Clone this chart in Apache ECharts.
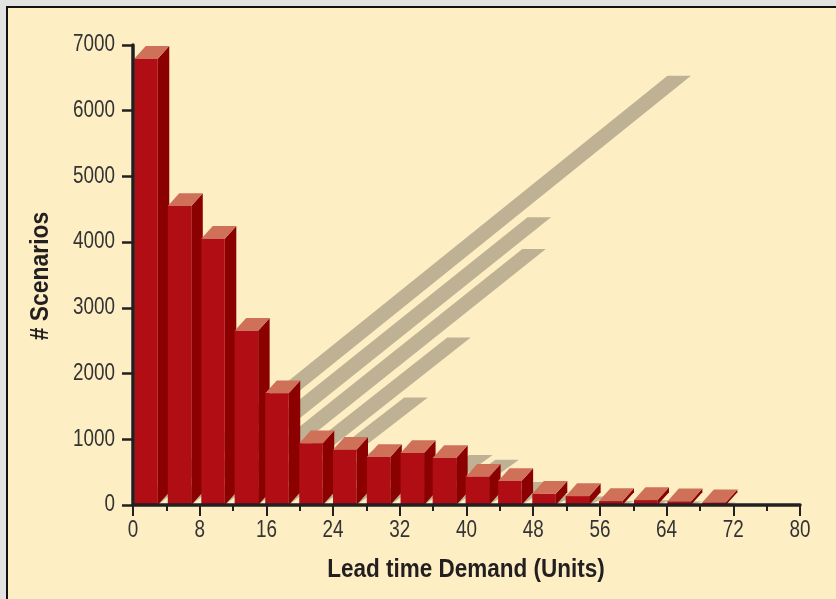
<!DOCTYPE html>
<html>
<head>
<meta charset="utf-8">
<style>
html,body{margin:0;padding:0;width:836px;height:599px;overflow:hidden;background:#e2e2e2}
#panel{position:absolute;left:6px;top:6px;right:0;bottom:0;border-left:2px solid #111;border-top:2px solid #111;background:#fdeec3}
#c{position:absolute;left:0;top:0;width:836px;height:599px}
</style>
<script src="https://cdn.jsdelivr.net/npm/echarts@6/dist/echarts.min.js"></script>
</head>
<body>
<div id="panel"></div>
<div id="c"></div>
<script>
const barCenters = [1.56,5.58,9.6,13.6,17.27,21.35,25.4,29.45,33.5,37.35,41.3,45.2,49.3,53.3,57.3,61.5,65.5,69.7];
const scenarios = [6790,4550,4050,2650,1700,940,840,730,790,715,430,365,170,135,60,75,55,40];
const xTickLabels = [0,8,16,24,32,40,48,56,64,72,80];
const yTickLabels = [0,1000,2000,3000,4000,5000,6000,7000];
const xTitle = 'Lead time Demand (Units)';
const yTitle = '# Scenarios';

const FONT = '"Liberation Sans",sans-serif';
const INK = '#231f20', LABEL = '#333';
const BAR_W = 2.82, DEPTH_X = 11.5, DEPTH_Y = 12.8;
const SHADOW_RATIO = 0.962, SHADOW_SHEAR = 1.225, SHADOW_OFFSET = 7.4;
const NARROW = 0.82;

const data = barCenters.map((c,i)=>[c,scenarios[i]]);
const poly = (points,fill)=>({type:'polygon',shape:{points},style:{fill}});
const tickText = (x,y,text,align)=>({
  type:'text',x,y,scaleX:NARROW,
  style:{text,fill:LABEL,font:'23px '+FONT,align,verticalAlign:'middle'}
});

const chart = echarts.init(document.getElementById('c'),null,{renderer:'canvas'});
chart.setOption({
  animation:false,
  backgroundColor:'transparent',
  grid:{left:133,right:36,top:45,bottom:94,containLabel:false},
  xAxis:{
    type:'value',min:0,max:80,interval:8,z:6,
    axisLine:{show:true,lineStyle:{color:INK,width:3.5}},
    axisTick:{show:true,length:11,lineStyle:{color:INK,width:2}},
    minorTick:{show:true,splitNumber:2,length:6,lineStyle:{color:INK,width:2}},
    axisLabel:{show:false},
    splitLine:{show:false},minorSplitLine:{show:false}
  },
  yAxis:{
    type:'value',min:0,max:7000,interval:1000,z:6,
    axisLine:{show:true,lineStyle:{color:INK,width:3.5}},
    axisTick:{show:true,length:11,lineStyle:{color:INK,width:2.5}},
    axisLabel:{show:false},
    splitLine:{show:false}
  },
  graphic:[
    {type:'text',x:466,y:570,scaleX:0.9,silent:true,
     style:{text:xTitle,fill:INK,font:'bold 25px '+FONT,align:'center',verticalAlign:'middle'}},
    {type:'text',x:41,y:276,rotation:Math.PI/2,scaleX:0.915,silent:true,
     style:{text:yTitle,fill:INK,font:'bold 25px '+FONT,align:'center',verticalAlign:'middle'}}
  ],
  series:[
    {
      type:'custom',coordinateSystem:'cartesian2d',z:2,data,silent:true,clip:false,
      encode:{x:0,y:1},
      renderItem(params,api){
        const c=api.value(0),v=api.value(1);
        const [x0,y0]=api.coord([c-BAR_W/2,0]);
        const [x1]=api.coord([c+BAR_W/2,0]);
        const [,yTop]=api.coord([c,v]);
        const dy=(y0-yTop)*SHADOW_RATIO,dx=dy*SHADOW_SHEAR+SHADOW_OFFSET;
        return poly([[x0,y0],[x1,y0],[x1+dx,y0-dy],[x0+dx,y0-dy]],'#bfb294');
      }
    },
    {
      type:'custom',coordinateSystem:'cartesian2d',z:3,data,silent:true,clip:false,
      encode:{x:0,y:1},
      renderItem(params,api){
        const c=api.value(0),v=api.value(1);
        const [x0,y0]=api.coord([c-BAR_W/2,0]);
        const [x1]=api.coord([c+BAR_W/2,0]);
        const [,yTop]=api.coord([c,v]);
        return {type:'group',children:[
          poly([[x1,y0],[x1,yTop],[x1+DEPTH_X,yTop-DEPTH_Y],[x1+DEPTH_X,y0-DEPTH_Y]],'#8b0000'),
          poly([[x0,yTop],[x1,yTop],[x1+DEPTH_X,yTop-DEPTH_Y],[x0+DEPTH_X,yTop-DEPTH_Y]],'#cf7059'),
          poly([[x0,y0],[x1,y0],[x1,yTop],[x0,yTop]],'#b00d14')
        ]};
      }
    },
    {
      type:'custom',coordinateSystem:'cartesian2d',z:7,silent:true,clip:false,
      data:xTickLabels.map(v=>[v,0]),encode:{x:0,y:1},
      renderItem(params,api){
        const [x,y]=api.coord([api.value(0),0]);
        return tickText(x,y+26,String(api.value(0)),'center');
      }
    },
    {
      type:'custom',coordinateSystem:'cartesian2d',z:7,silent:true,clip:false,
      data:yTickLabels.map(v=>[0,v]),encode:{x:0,y:1},
      renderItem(params,api){
        const [x,y]=api.coord([0,api.value(1)]);
        return tickText(x-18,y,String(api.value(1)),'right');
      }
    }
  ]
});
</script>
</body>
</html>
